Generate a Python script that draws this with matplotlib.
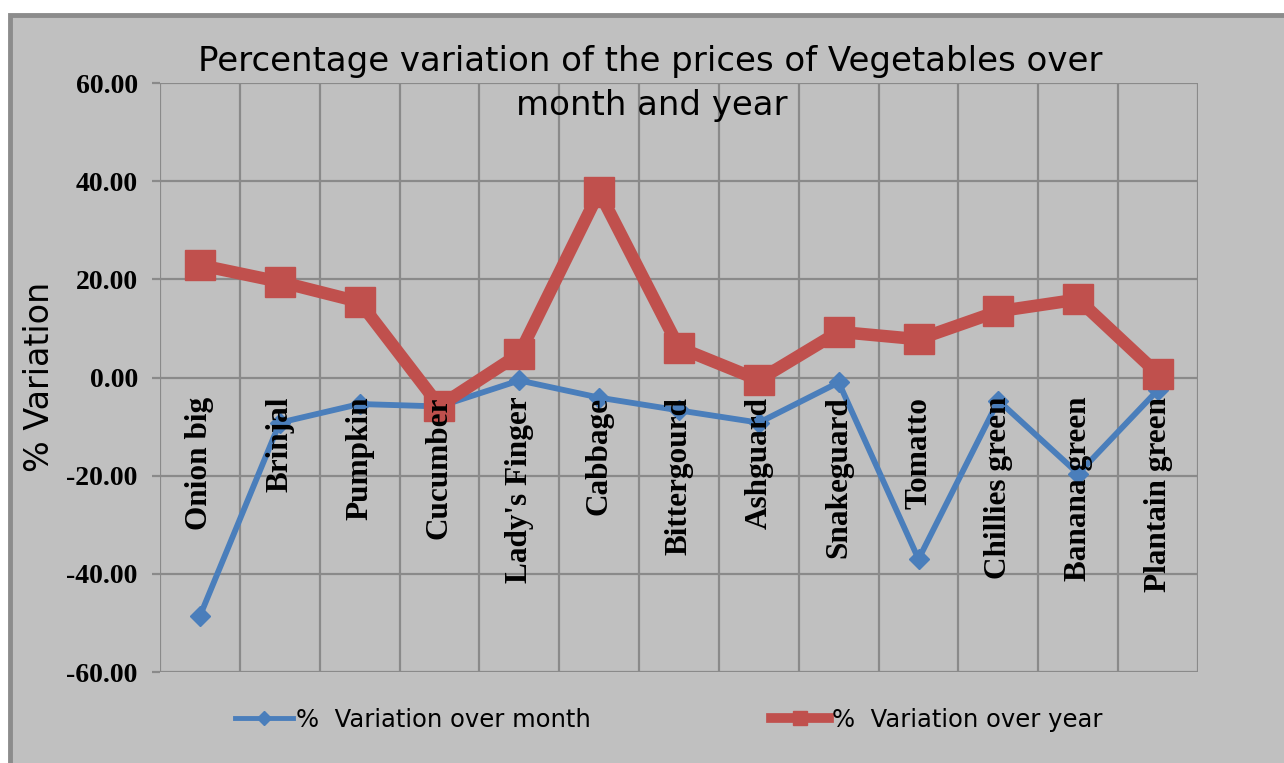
import matplotlib.pyplot as plt
from matplotlib.lines import Line2D
from matplotlib.patches import Rectangle

vegetables = ["Onion big", "Brinjal", "Pumpkin", "Cucumber", "Lady's Finger",
              "Cabbage", "Bittergourd", "Ashguard", "Snakeguard", "Tomatto",
              "Chillies green", "Banana green", "Plantain green"]
over_month = [-48.6, -9.2, -5.4, -5.9, -0.6, -4.1, -6.7, -9.2, -1.0, -37.0, -4.7, -19.6, -2.5]
over_year = [22.9, 19.5, 15.4, -5.8, 4.8, 37.8, 6.1, -0.5, 9.3, 7.8, 13.5, 15.9, 0.7]
y_ticks = [-60, -40, -20, 0, 20, 40, 60]

bg = "#c0c0c0"
grid_c = "#8a8a8a"
blue = "#4a7ebb"
red = "#c0504d"

fig = plt.figure(figsize=(12.84, 7.63), dpi=100, facecolor="white")
# outer chart frame (white margin at top/left)
fig.patches.append(Rectangle((10 / 1284, -0.05), 1.1, 1 - 15 / 763 + 0.05,
                             transform=fig.transFigure, facecolor=bg,
                             edgecolor="#8c8c8c", linewidth=3.5, zorder=-10))

ax = fig.add_axes([160 / 1284, 1 - 672 / 763, 1038 / 1284, 589 / 763])
ax.set_facecolor(bg)
n = len(vegetables)
x = list(range(n))
ax.set_xlim(-0.5, n - 0.5)
ax.set_ylim(-60, 60)

for s in ax.spines.values():
    s.set_visible(False)
for yv in y_ticks:
    ax.axhline(yv, color=grid_c, lw=1.6, zorder=1)
for i in range(n + 1):
    ax.axvline(i - 0.5, color=grid_c, lw=1.6, zorder=1)

ax.plot(x, over_month, color=blue, lw=4.2, marker="D", ms=10, zorder=3)
ax.plot(x, over_year, color=red, lw=9, marker="s", ms=21, zorder=4)

ax.set_xticks([])
ax.set_yticks(y_ticks)
ax.set_yticklabels([f"{v:.2f}" for v in y_ticks], fontfamily="Liberation Serif",
                   fontweight="bold", fontsize=20)
ax.tick_params(axis="y", length=6, width=1.6, color=grid_c, pad=10)

for i, name in enumerate(vegetables):
    ax.text(i, -3.9, name, rotation=90, ha="center", va="top",
            fontfamily="Liberation Serif", fontweight="bold", fontsize=22.5,
            zorder=6)

fig.text(40 / 1284, 1 - 377 / 763, "% Variation", rotation=90, ha="center",
         va="center", fontfamily="DejaVu Sans", fontsize=24)

fig.text(0.5066, 1 - 62 / 763, "Percentage variation of the prices of Vegetables over",
         ha="center", va="center", fontfamily="DejaVu Sans", fontsize=24.5)
fig.text(0.5078, 1 - 106 / 763, "month and year",
         ha="center", va="center", fontfamily="DejaVu Sans", fontsize=24.5)

handles = [Line2D([], [], color=blue, lw=3.5, marker="D", ms=7),
           Line2D([], [], color=red, lw=7, marker="s", ms=10)]
fig.legend(handles, ["%  Variation over month", "%  Variation over year"],
           loc="center", bbox_to_anchor=(0.5207, 1 - 720 / 763), ncol=2,
           frameon=False, handlelength=2.4, handletextpad=0.12,
           columnspacing=7.4, prop={"family": "DejaVu Sans", "size": 17.5})

fig.savefig("out.png", dpi=100, facecolor=fig.get_facecolor())
